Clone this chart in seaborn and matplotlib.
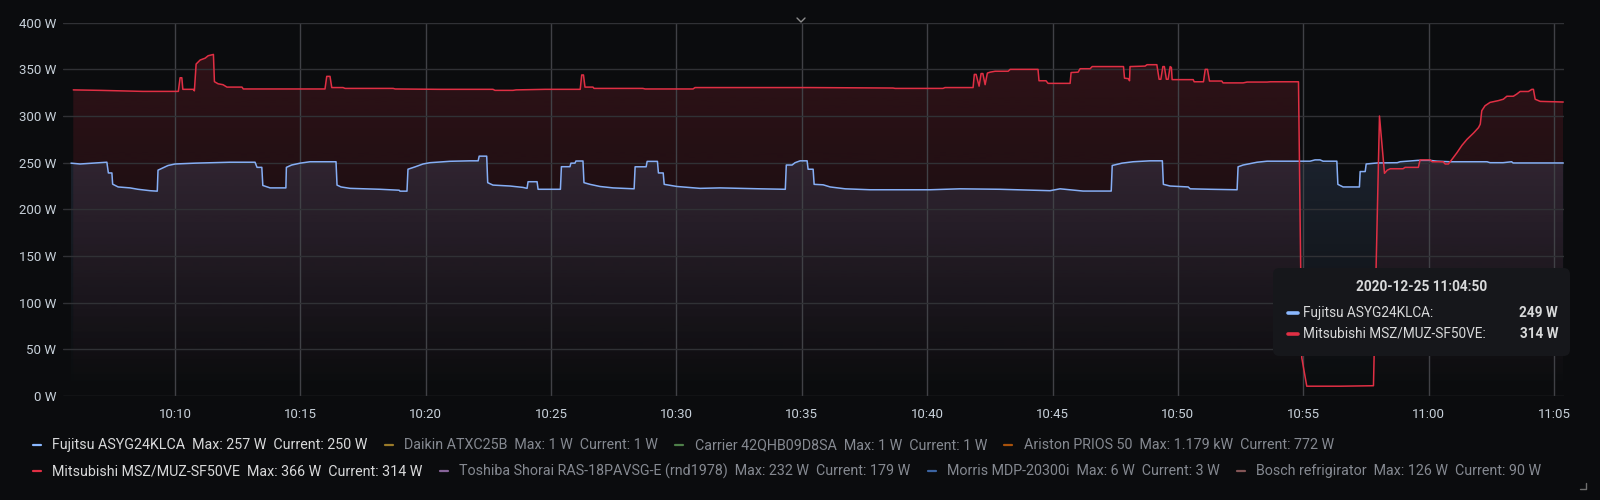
import numpy as np
import matplotlib
matplotlib.use("Agg")
import matplotlib.pyplot as plt
import matplotlib.colors as mcolors
from matplotlib.patches import FancyBboxPatch, PathPatch
from matplotlib.lines import Line2D
import seaborn as sns

# time axis: minutes after 10:00
fujitsu_t = [5.85, 6.21, 7.01, 7.28, 7.34, 7.48, 7.51, 7.73, 8.2, 8.52, 9.0, 9.29, 9.32, 9.52, 9.72, 10.0,
             10.8, 12.19, 13.19, 13.27, 13.46, 13.5, 13.79, 14.42, 14.44, 14.65, 14.99, 15.38, 16.42, 16.46,
             16.62, 16.98, 18.18, 18.94, 18.97, 19.25, 19.29, 19.57, 19.89, 20.17, 20.97, 21.77, 22.09, 22.13,
             22.43, 22.47, 22.68, 23.36, 23.88, 24.04, 24.08, 24.44, 24.48, 25.37, 25.41, 25.75, 25.79, 25.95,
             25.99, 26.27, 26.31, 26.55, 26.95, 27.47, 28.31, 28.35, 28.79, 28.83, 29.24, 29.28, 29.47, 29.51,
             30.02, 30.94, 31.74, 33.34, 34.34, 34.38, 34.61, 34.73, 34.93, 35.21, 35.25, 35.45, 35.49, 35.85,
             36.13, 36.73, 37.72, 40.12, 41.31, 42.91, 44.9, 45.3, 46.22, 47.34, 47.38, 47.77, 48.21, 48.89,
             49.38, 49.42, 49.69, 50.41, 50.49, 51.28, 52.36, 52.4, 52.6, 52.88, 53.16, 53.56, 55.27, 55.47,
             55.67, 55.79, 56.34, 56.38, 56.59, 57.24, 57.27, 57.47, 57.51, 57.95, 58.75, 58.86, 59.58, 60.06,
             60.34, 60.86, 62.33, 62.45, 62.97, 63.31, 63.37, 65.37]
fujitsu_w = [249.5, 248.6, 250, 250.5, 239, 239, 227, 224, 223, 221.5, 220, 219.5, 242, 244.5, 247, 248.6,
             249.5, 250.5, 250.5, 245, 245, 225.6, 223, 223, 245, 247.5, 249.5, 251, 251, 226,
             224, 222.5, 221.5, 220.5, 219.5, 219.5, 243, 245.5, 248.6, 250, 251.5, 252, 252, 257,
             257, 228.6, 226, 225, 223.5, 222.5, 229.6, 229.6, 221.5, 221.5, 245.7, 245.7, 249.5, 249.5,
             251.8, 251.8, 228.6, 226.8, 224.5, 223, 222, 245.6, 245.6, 251.4, 251.4, 239, 239, 226.8,
             224.5, 222.5, 223, 222, 221.5, 247.5, 247.5, 250, 252, 252, 243, 243, 226.8, 226.3,
             224, 222, 221, 221, 222, 221.5, 220, 222, 219.6, 219.6, 247, 249.5, 251, 252,
             252, 226.8, 225, 224, 222, 221.5, 221, 245.6, 247.5, 249, 250.5, 251.6, 251.6, 253,
             253, 251.6, 251.6, 226.8, 224, 224, 240.5, 240.5, 248.6, 249.7, 250, 251, 252.5, 252.5,
             251.6, 251, 251, 250, 250, 251, 249.7, 249.7]

mitsubishi_t = [5.94, 7.01, 8.72, 10.13, 10.2, 10.27, 10.31, 10.73, 10.77, 10.84, 11.0, 11.2, 11.32, 11.53,
                11.57, 11.72, 11.91, 12.07, 12.67, 12.72, 15.98, 16.05, 16.18, 16.25, 16.7, 16.78, 18.7,
                18.78, 20.57, 22.68, 22.76, 23.48, 23.6, 24.76, 26.16, 26.22, 26.29, 26.35, 26.67, 26.71,
                28.66, 28.75, 30.66, 30.74, 35.33, 38.64, 38.72, 40.63, 40.71, 41.83, 41.88, 41.95, 42.07,
                42.15, 42.22, 42.31, 42.4, 42.51, 42.71, 43.23, 43.31, 44.42, 44.46, 44.74, 44.82, 45.7,
                45.74, 46.02, 46.1, 46.5, 46.58, 47.83, 47.87, 48.03, 48.07, 48.09, 48.69, 48.77, 49.16,
                49.25, 49.32, 49.4, 49.46, 49.54, 49.61, 49.69, 49.74, 49.77, 50.61, 50.65, 51.02, 51.09,
                51.18, 51.26, 51.75, 51.8, 52.6, 52.76, 53.56, 53.68, 54.81, 54.94, 55.14, 56.47, 57.8,
                58.04, 58.24, 58.35, 58.47, 58.98, 59.06, 59.59, 59.66, 60.06, 60.14, 60.58, 60.66, 60.79,
                60.93, 61.13, 61.33, 61.53, 61.8, 61.99, 62.06, 62.12, 62.25, 62.45, 62.78, 62.98, 63.12,
                63.38, 63.52, 63.65, 63.98, 64.12, 64.18, 64.25, 64.45, 65.37]
mitsubishi_w = [328, 327.5, 326.4, 326.4, 341, 341, 328.6, 328.6, 327, 355.7, 360, 362, 364.6, 366,
                336.8, 334.5, 333.6, 331, 331, 329, 329, 342.5, 342.5, 330.5, 330.5, 329.6, 329.6,
                329, 328.6, 328.6, 327.5, 327.5, 328, 328.6, 328.6, 344, 344, 331, 331, 329.6,
                329.6, 329, 329, 330.5, 330.5, 330, 329.6, 329.6, 330.5, 330.5, 344.6, 344.6, 332,
                345.5, 345.5, 333.6, 346, 347, 348, 348, 350, 350, 337.8, 337.8, 335, 335,
                346.6, 347, 350.7, 350.7, 353, 353, 340.6, 340, 337.8, 353, 353.5, 355, 355,
                339.4, 339.4, 353, 353, 339.4, 339.4, 353, 352, 339, 339, 336.7, 336.7, 350,
                350, 337.5, 337.5, 335.5, 335.5, 336.4, 336.4, 336.7, 336.7, 41, 10.5, 10.5, 11,
                300, 238.6, 242, 243.5, 243.5, 245, 245, 253, 253, 251, 251, 248.6, 248.6,
                253.5, 260.7, 268.6, 275, 282, 287.6, 291.3, 305.7, 311, 314.6, 316.5, 318, 321.2,
                321.2, 323.6, 326.3, 326.3, 328.6, 328.6, 318, 315.7, 315]

tick_minutes = [10, 15, 20, 25, 30, 35, 40, 45, 50, 55, 60, 65]
tick_labels = ["10:10", "10:15", "10:20", "10:25", "10:30", "10:35", "10:40", "10:45",
               "10:50", "10:55", "11:00", "11:05"]
y_ticks = [0, 50, 100, 150, 200, 250, 300, 350, 400]

legend_names = ["Fujitsu ASYG24KLCA", "Daikin ATXC25B", "Carrier 42QHB09D8SA", "Ariston PRIOS 50",
                "Mitsubishi MSZ/MUZ-SF50VE", "Toshiba Shorai RAS-18PAVSG-E (rnd1978)",
                "Morris MDP-20300i", "Bosch refrigirator"]
legend_max = ["257 W", "1 W", "1 W", "1.179 kW", "366 W", "232 W", "6 W", "126 W"]
legend_current = ["250 W", "1 W", "1 W", "772 W", "314 W", "179 W", "3 W", "90 W"]
legend_colors = ["#8AB8FF", "#EAB839", "#73BF69", "#FF780A", "#E02F44", "#CA95E5", "#5794F2", "#C47D7D"]
legend_visible = [True, False, False, False, True, False, False, False]

tooltip_time = "2020-12-25 11:04:50"
tooltip_names = ["Fujitsu ASYG24KLCA:", "Mitsubishi MSZ/MUZ-SF50VE:"]
tooltip_values = ["249 W", "314 W"]

BG = "#0b0c0e"
TXT = "#c7d0d9"
BLUE = legend_colors[0]
RED = legend_colors[4]

sns.set_theme(style="dark")
plt.rcParams["font.family"] = ["Roboto", "DejaVu Sans"]

W, H = 1600, 500
def fx(x):
    return x / W
def fy(y):
    return 1 - y / H

fig = plt.figure(figsize=(16, 5), dpi=100, facecolor=BG)
ax = fig.add_axes([fx(63), fy(396), (1564 - 63) / W, (396 - 22.7) / H])
ax.set_facecolor(BG)


def gradient_fill(t, w, color, amax, top, z):
    poly = ax.fill_between(t, w, 0, facecolor="none", edgecolor="none")
    path = poly.get_paths()[0]
    patch = PathPatch(path, transform=ax.transData, facecolor="none", edgecolor="none")
    ax.add_patch(patch)
    grad = np.zeros((256, 1, 4))
    grad[:, 0, :3] = mcolors.to_rgb(color)
    grad[:, 0, 3] = np.linspace(0.0, amax, 256)
    im = ax.imshow(grad, aspect="auto", origin="lower", interpolation="bilinear",
                   extent=[t[0], t[-1], 0, top], zorder=z)
    im.set_clip_path(patch)


gradient_fill(mitsubishi_t, mitsubishi_w, RED, 0.17, 366, 1)
gradient_fill(fujitsu_t, fujitsu_w, BLUE, 0.13, 257, 1.5)

sns.lineplot(x=fujitsu_t, y=fujitsu_w, ax=ax, color="#86aef5", linewidth=1.1, estimator=None, zorder=3)
sns.lineplot(x=mitsubishi_t, y=mitsubishi_w, ax=ax, color=RED, linewidth=1.1, estimator=None, zorder=4)

ax.set_xlim(5.53, 65.4)
ax.set_ylim(0, 400)
ax.set_xticks(tick_minutes)
ax.set_xticklabels(tick_labels)
ax.set_yticks(y_ticks)
ax.set_yticklabels([f"{v} W" for v in y_ticks])
ax.tick_params(axis="both", length=0, labelsize=9.5, labelcolor=TXT)
ax.tick_params(axis="x", pad=9)
ax.tick_params(axis="y", pad=5)
ax.set_axisbelow(False)
ax.grid(axis="y", color="#303135", linewidth=1, zorder=2)
ax.grid(axis="x", color="#404146", linewidth=1, zorder=2)
for s in ax.spines.values():
    s.set_visible(False)
ax.set_xlabel("")
ax.set_ylabel("")

# legend below the plot, font size fitted so the first entry is ~315 px wide
fig.canvas.draw()
renderer = fig.canvas.get_renderer()
labels = [f"{legend_names[i]}  Max: {legend_max[i]}  Current: {legend_current[i]}" for i in range(8)]
probe = fig.text(0, 0, labels[0], fontsize=10)
legend_fs = 10 * 315 / probe.get_window_extent(renderer).width
probe.remove()

rows = [(445, range(0, 4)), (471, range(4, 8))]
for ypix, idx in rows:
    x = 33
    for i in idx:
        vis = legend_visible[i]
        fig.add_artist(Line2D([fx(x), fx(x + 8)], [fy(ypix), fy(ypix)], transform=fig.transFigure,
                              color=legend_colors[i], lw=1.6, alpha=1.0 if vis else 0.65))
        t = fig.text(fx(x + 19.5), fy(ypix), labels[i], ha="left", va="center", fontsize=legend_fs,
                     color="#d8d9da" if vis else "#858991")
        x = t.get_window_extent(renderer).x1 + 17

# tooltip
box = FancyBboxPatch((fx(1273), fy(356)), (1570 - 1273) / W, (356 - 268) / H,
                     boxstyle="round,pad=0,rounding_size=0.004", mutation_aspect=W / H,
                     transform=fig.transFigure, facecolor="#16171b", edgecolor="none", zorder=10)
fig.add_artist(box)
fig.text(fx(1422), fy(287), tooltip_time, ha="center", va="center", fontsize=9.8,
         fontweight="bold", color="#d8d9da", zorder=11)
for k, (ypix, c) in enumerate([(313, BLUE), (334, RED)]):
    fig.add_artist(Line2D([fx(1288), fx(1298)], [fy(ypix), fy(ypix)], transform=fig.transFigure,
                          color=c, lw=2.6, solid_capstyle="round", zorder=11))
    fig.text(fx(1303), fy(ypix), tooltip_names[k], ha="left", va="center", fontsize=9.8,
             color="#d8d9da", zorder=11)
    fig.text(fx(1558), fy(ypix), tooltip_values[k], ha="right", va="center", fontsize=9.8,
             fontweight="bold", color="#d8d9da", zorder=11)

# small panel decorations
fig.add_artist(Line2D([fx(797), fx(801), fx(805)], [fy(18), fy(22), fy(18)],
                      transform=fig.transFigure, color="#8e8e8e", lw=1))
fig.add_artist(Line2D([fx(1580), fx(1586), fx(1586)], [fy(489), fy(489), fy(483)],
                      transform=fig.transFigure, color="#6e6e6e", lw=1))

fig.savefig("out.png", dpi=100, facecolor=BG)
